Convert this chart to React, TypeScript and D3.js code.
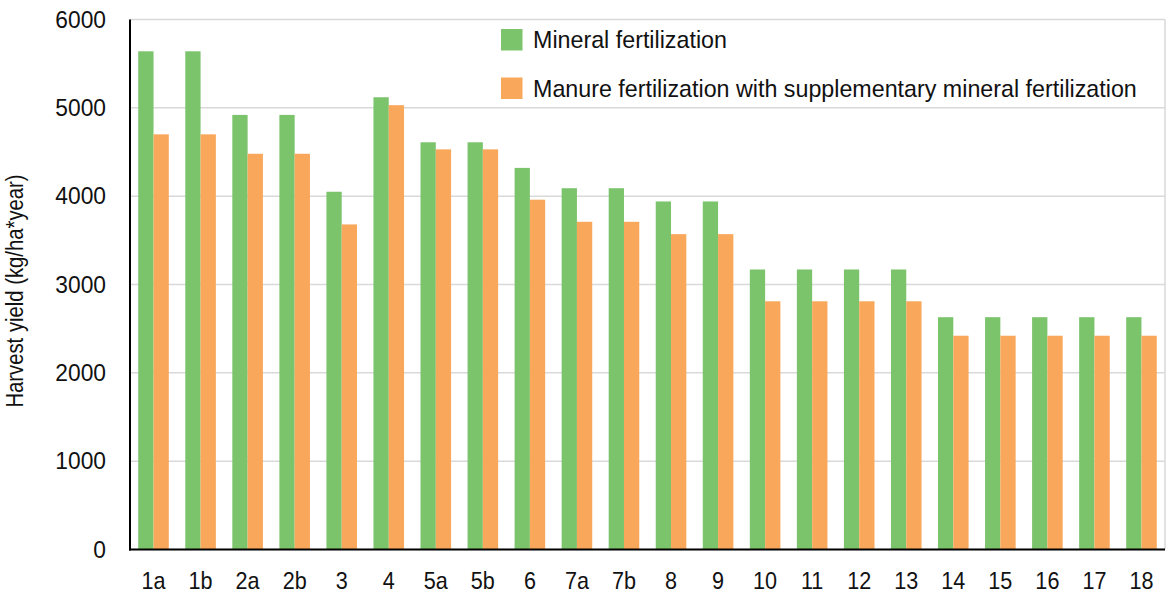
import * as d3 from 'd3'
import React from 'react'

const categories = ['1a', '1b', '2a', '2b', '3', '4', '5a', '5b', '6', '7a', '7b', '8', '9', '10', '11', '12', '13', '14', '15', '16', '17', '18']
const mineral = [5640, 5640, 4920, 4920, 4050, 5120, 4610, 4610, 4320, 4090, 4090, 3940, 3940, 3170, 3170, 3170, 3170, 2630, 2630, 2630, 2630, 2630]
const manure = [4700, 4700, 4480, 4480, 3680, 5030, 4530, 4530, 3960, 3710, 3710, 3570, 3570, 2810, 2810, 2810, 2810, 2420, 2420, 2420, 2420, 2420]
const seriesNames = ['Mineral fertilization', 'Manure fertilization with supplementary mineral fertilization']
const yTicks = [0, 1000, 2000, 3000, 4000, 5000, 6000]

const W = 1167
const H = 596
const margin = { left: 130, right: 2, top: 19.5, bottom: 46.5 }
const colors = ['#7BC46C', '#F9A75B']
const font = "'Liberation Sans', Arial, sans-serif"

function NarrowText({ x, y, children, anchor = 'start', size = 24, squeeze = 0.86 }: any) {
  return (
    <g transform={`translate(${x},${y}) scale(${squeeze},1)`}>
      <text textAnchor={anchor} dominantBaseline="central" fontSize={size} fontFamily={font} fill="#111">
        {children}
      </text>
    </g>
  )
}

export default function App() {
  const x = d3.scaleBand().domain(categories).range([margin.left, W - margin.right]).paddingInner(0.35).paddingOuter(0.175)
  const x1 = d3.scaleBand().domain(['0', '1']).range([0, x.bandwidth()])
  const y = d3.scaleLinear().domain([0, 6000]).range([H - margin.bottom, margin.top])
  const series = [mineral, manure]

  return (
    <svg width={W} height={H} style={{ position: 'absolute', left: 0, top: 0, background: '#fff' }}>
      {yTicks.map(t => (
        <line key={t} x1={margin.left} x2={W - margin.right} y1={y(t)} y2={y(t)} stroke="#d9d9d9" strokeWidth={1.5} />
      ))}
      <line x1={W - margin.right} x2={W - margin.right} y1={y(6000)} y2={y(0)} stroke="#d9d9d9" strokeWidth={1.5} />
      {series.map((vals, si) =>
        categories.map((c, i) => (
          <rect key={`${si}-${c}`} x={(x(c) as number) + (x1(String(si)) as number)} y={y(vals[i])}
            width={x1.bandwidth()} height={y(0) - y(vals[i])} fill={colors[si]} />
        ))
      )}
      <line x1={margin.left} x2={margin.left} y1={y(6000)} y2={y(0) + 1} stroke="#000" strokeWidth={2} />
      <line x1={margin.left - 1} x2={W - margin.right} y1={y(0)} y2={y(0)} stroke="#000" strokeWidth={2} />
      {yTicks.map(t => (
        <NarrowText key={t} x={106} y={y(t)} anchor="end" squeeze={0.95}>{t}</NarrowText>
      ))}
      {categories.map(c => (
        <NarrowText key={c} x={(x(c) as number) + x.bandwidth() / 2} y={581} anchor="middle" squeeze={0.9}>{c}</NarrowText>
      ))}
      <g transform="translate(15,291) rotate(-90) scale(0.845,1)">
        <text textAnchor="middle" dominantBaseline="central" fontSize={24} fontFamily={font} fill="#111">
          Harvest yield (kg/ha*year)
        </text>
      </g>
      {seriesNames.map((s, i) => (
        <g key={s}>
          <rect x={501} y={29 + i * 48.5} width={21.5} height={21.5} fill={colors[i]} />
          <NarrowText x={533} y={40 + i * 48.5} squeeze={0.97}>{s}</NarrowText>
        </g>
      ))}
    </svg>
  )
}
